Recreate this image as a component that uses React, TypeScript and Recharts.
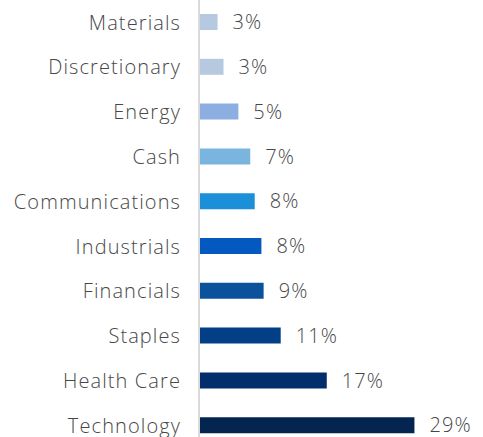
import { BarChart, Bar, XAxis, YAxis, Cell, LabelList } from 'recharts'

const sectors = [
  'Materials',
  'Discretionary',
  'Energy',
  'Cash',
  'Communications',
  'Industrials',
  'Financials',
  'Staples',
  'Health Care',
  'Technology',
]
const weights = [2.5, 3.3, 5.3, 6.9, 7.5, 8.4, 8.7, 11.0, 17.2, 29.0]
const barColors = [
  '#b7c9e0',
  '#b7c9e0',
  '#8caee0',
  '#7ab5e0',
  '#1b8fd7',
  '#0359bf',
  '#0a529c',
  '#023f87',
  '#022f6b',
  '#03254f',
]

const data = sectors.map((name, i) => ({ name, value: weights[i] }))

const textStyle = {
  fill: '#474747',
  fontSize: 20,
  fontFamily: '"Open Sans", Lato, sans-serif',
  fontWeight: 300,
  letterSpacing: 1.1,
}

export default function App() {
  return (
    <div style={{ position: 'absolute', left: 0, top: 0, width: 483, height: 437, overflow: 'hidden' }}>
      <BarChart
        width={483}
        height={448}
        data={data}
        layout="vertical"
        margin={{ top: 0, right: 24, bottom: 0, left: 0 }}
      >
        <XAxis type="number" domain={[0, 35]} hide />
        <YAxis
          type="category"
          dataKey="name"
          width={199}
          tickLine={false}
          tickSize={0}
          tickMargin={18}
          axisLine={{ stroke: '#dadada', strokeWidth: 2 }}
          tick={textStyle}
        />
        <Bar dataKey="value" barSize={16} isAnimationActive={false}>
          {data.map((d, i) => (
            <Cell key={d.name} fill={barColors[i]} />
          ))}
          <LabelList
            dataKey="value"
            position="right"
            offset={15}
            formatter={(v: number) => `${Math.round(v)}%`}
            style={textStyle}
          />
        </Bar>
      </BarChart>
    </div>
  )
}
